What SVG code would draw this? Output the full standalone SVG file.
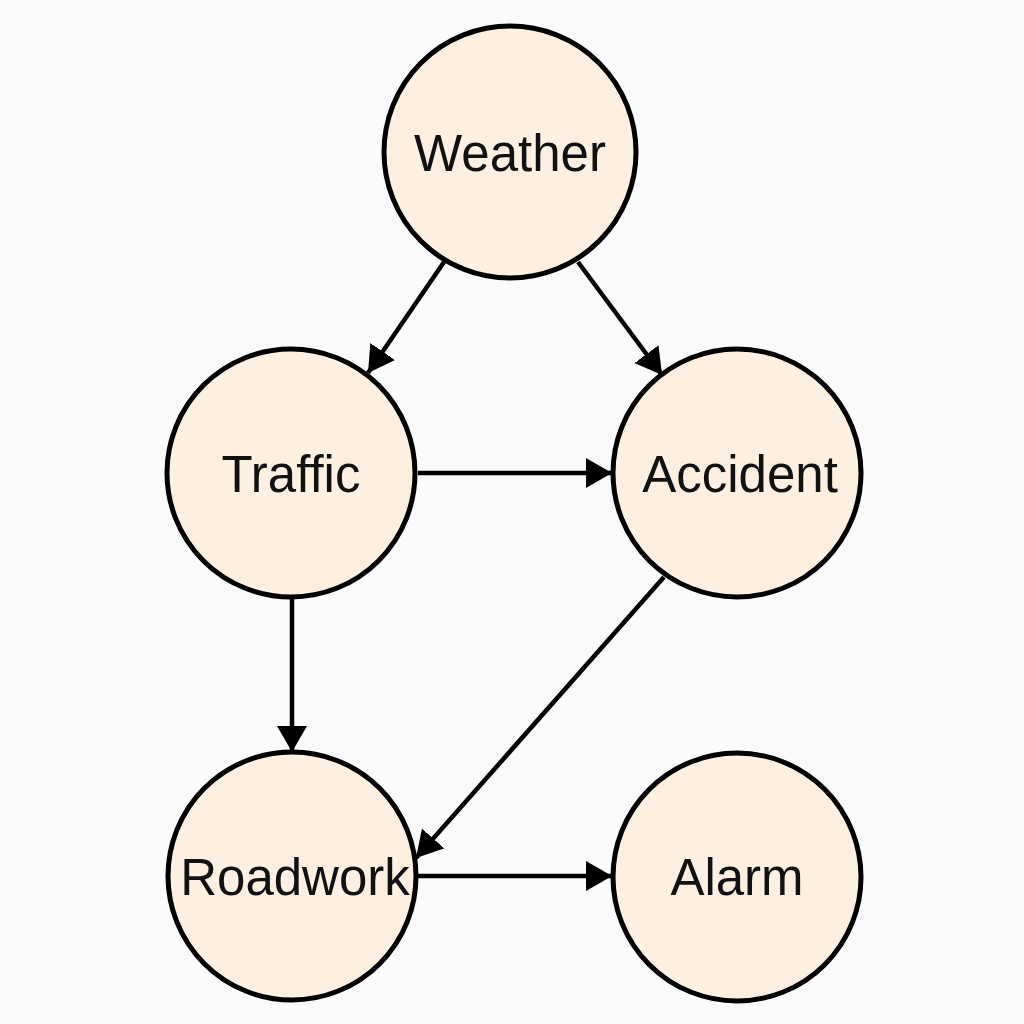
<svg xmlns="http://www.w3.org/2000/svg" width="1024" height="1024" viewBox="0 0 1024 1024">
<style>
.node{fill:#fdf0e1;stroke:#000;stroke-width:5}
.lbl{font-family:"Liberation Sans",Arial,sans-serif;font-size:51px;fill:#111;text-anchor:middle}
.edge{stroke:#000;stroke-width:4.5;fill:none;marker-end:url(#ah)}
</style>
<defs>
<marker id="ah" markerUnits="userSpaceOnUse" markerWidth="28" markerHeight="32" refX="26" refY="15" orient="auto">
<path d="M0,0 L26,15 L0,30 Z" fill="#000"/>
</marker>
</defs>
<rect width="1024" height="1024" fill="#fafafa"/>
<g id="connectors">
<line class="edge" x1="444" y1="262" x2="368" y2="373"/>
<line class="edge" x1="578" y1="262" x2="662" y2="375"/>
<line class="edge" x1="418" y1="473" x2="612" y2="473"/>
<line class="edge" x1="292" y1="598" x2="292" y2="752"/>
<line class="edge" x1="664" y1="577" x2="416" y2="858"/>
<line class="edge" x1="418" y1="876" x2="612" y2="876"/>
</g>
<g id="weather"><circle class="node" cx="510" cy="152" r="126"/><text class="lbl" x="510" y="171">Weather</text></g>
<g id="traffic"><circle class="node" cx="291" cy="473" r="124"/><text class="lbl" x="291" y="492">Traffic</text></g>
<g id="accident"><circle class="node" cx="737" cy="473" r="124"/><text class="lbl" x="740" y="492">Accident</text></g>
<g id="roadwork"><circle class="node" cx="292" cy="876" r="124"/><text class="lbl" x="295" y="895">Roadwork</text></g>
<g id="alarm"><circle class="node" cx="737" cy="877" r="124"/><text class="lbl" x="737" y="895">Alarm</text></g>
</svg>
